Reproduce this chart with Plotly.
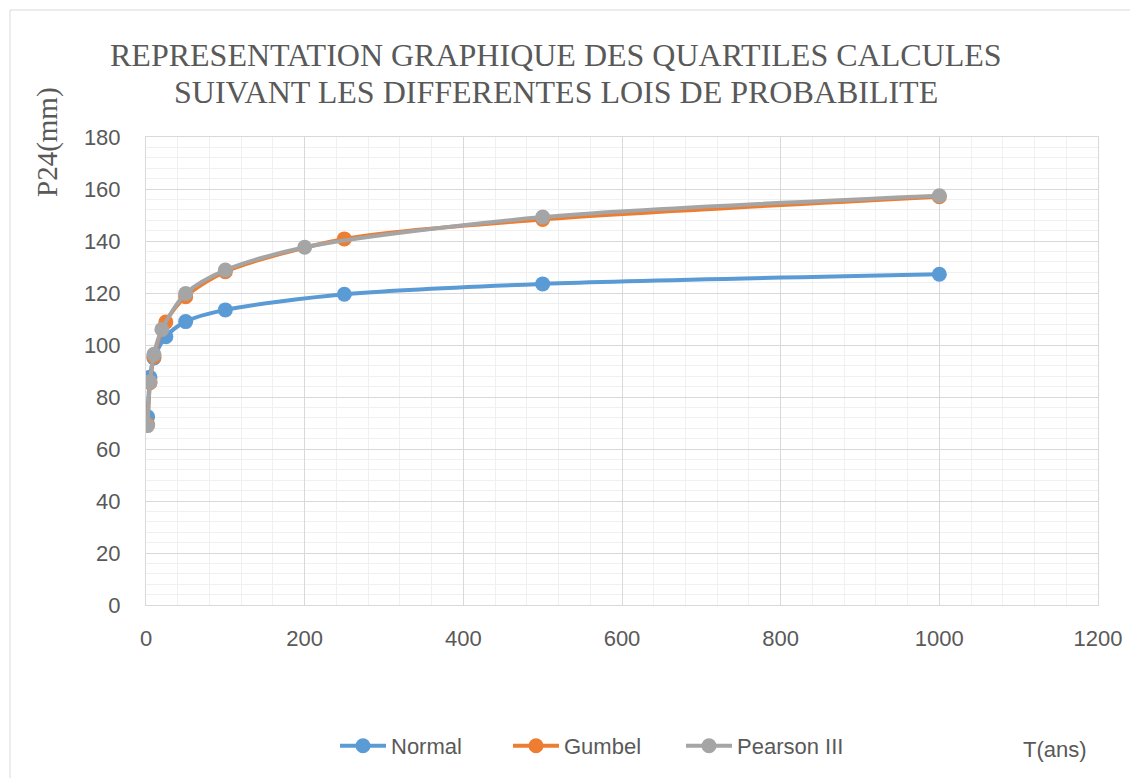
import plotly.graph_objects as go

# ---- data ----
T_normal = [2, 5, 10, 25, 50, 100, 250, 500, 1000]
P_normal = [72.4, 87.6, 95.0, 103.2, 109.0, 113.5, 119.5, 123.5, 127.2]

T_gumbel = [2, 5, 10, 25, 50, 100, 250, 500, 1000]
P_gumbel = [69.5, 85.5, 95.5, 108.8, 118.6, 128.2, 140.8, 148.3, 157.0]

T_pearson = [2, 5, 10, 20, 50, 100, 200, 500, 1000]
P_pearson = [69.0, 85.8, 96.4, 106.0, 119.8, 128.8, 137.6, 149.2, 157.4]

series_names = ["Normal", "Gumbel", "Pearson III"]
series_colors = ["#5B9BD5", "#ED7D31", "#A5A5A5"]

title_lines = ["REPRESENTATION GRAPHIQUE DES QUARTILES CALCULES",
               "SUIVANT LES DIFFERENTES LOIS DE PROBABILITE"]
y_title = "P24(mm)"
x_title = "T(ans)"

# page body has an 8px margin: compensate so positions match the window
O = 8
W, H = 1138 - O, 778 - O
# plot area in window pixels: x 146..1098, y 137..605
L, R, T, B = 146 - O, 1138 - 1098, 137 - O, 778 - 605
PW, PH = W - L - R, H - T - B

def px(xp):
    return (xp - O - L) / PW

def py(yp):
    return (H - B - (yp - O)) / PH

TEXT = "#595959"
SANS = "Liberation Sans, Arial, sans-serif"
SERIF = "Liberation Serif, Times New Roman, serif"

fig = go.Figure()
for xs, ys, name, col in zip([T_normal, T_gumbel, T_pearson],
                             [P_normal, P_gumbel, P_pearson],
                             series_names, series_colors):
    fig.add_trace(go.Scatter(
        x=xs, y=ys, name=name, mode="lines+markers",
        line=dict(color=col, width=4, shape="spline", smoothing=0.8),
        marker=dict(color=col, size=15),
    ))

fig.update_layout(
    width=W, height=H,
    margin=dict(l=L, r=R, t=T, b=B, autoexpand=False),
    paper_bgcolor="white", plot_bgcolor="white",
    font=dict(family=SANS, size=22, color=TEXT),
    showlegend=True,
    legend=dict(orientation="h", x=px(335), xanchor="left",
                y=py(746), yanchor="middle",
                font=dict(family=SANS, size=22, color=TEXT),
                itemwidth=46, entrywidth=112, entrywidthmode="pixels",
                bgcolor="rgba(0,0,0,0)"),
    xaxis=dict(range=[0, 1200], dtick=200, tick0=0,
               showgrid=True, gridcolor="#d9d9d9", gridwidth=1,
               minor=dict(dtick=40, showgrid=True, gridcolor="#f0f0f0", gridwidth=1),
               showline=True, linecolor="#d9d9d9", linewidth=1, mirror=True,
               zeroline=False, ticks="", ticklabelstandoff=14,
               tickfont=dict(family=SANS, size=22, color=TEXT)),
    yaxis=dict(range=[0, 180], dtick=20, tick0=0,
               showgrid=True, gridcolor="#d9d9d9", gridwidth=1,
               minor=dict(dtick=4, showgrid=True, gridcolor="#f0f0f0", gridwidth=1),
               showline=True, linecolor="#d9d9d9", linewidth=1, mirror=True,
               zeroline=False, ticks="", ticklabelstandoff=20,
               tickfont=dict(family=SANS, size=22, color=TEXT)),
)

# chart title (two centred lines)
for line, yc in zip(title_lines, [55, 92]):
    fig.add_annotation(text=line, xref="paper", yref="paper",
                       x=px(556), y=py(yc), xanchor="center", yanchor="middle",
                       showarrow=False,
                       font=dict(family=SERIF, size=32, color=TEXT))

fig.add_annotation(text=y_title, textangle=-90, xref="paper", yref="paper",
                   x=px(48), y=py(142), xanchor="center", yanchor="middle",
                   showarrow=False, font=dict(family=SERIF, size=29, color=TEXT))
fig.add_annotation(text=x_title, xref="paper", yref="paper",
                   x=px(1055), y=py(749), xanchor="center", yanchor="middle",
                   showarrow=False, font=dict(family=SANS, size=22, color=TEXT))

# outer chart border (top and left edges visible in the reference)
fig.add_shape(type="line", xref="paper", yref="paper",
              x0=px(10), x1=px(1145), y0=py(10), y1=py(10),
              line=dict(color="#d9d9d9", width=1))
fig.add_shape(type="line", xref="paper", yref="paper",
              x0=px(10), x1=px(10), y0=py(10), y1=py(785),
              line=dict(color="#d9d9d9", width=1))

fig.write_html("out.html")
